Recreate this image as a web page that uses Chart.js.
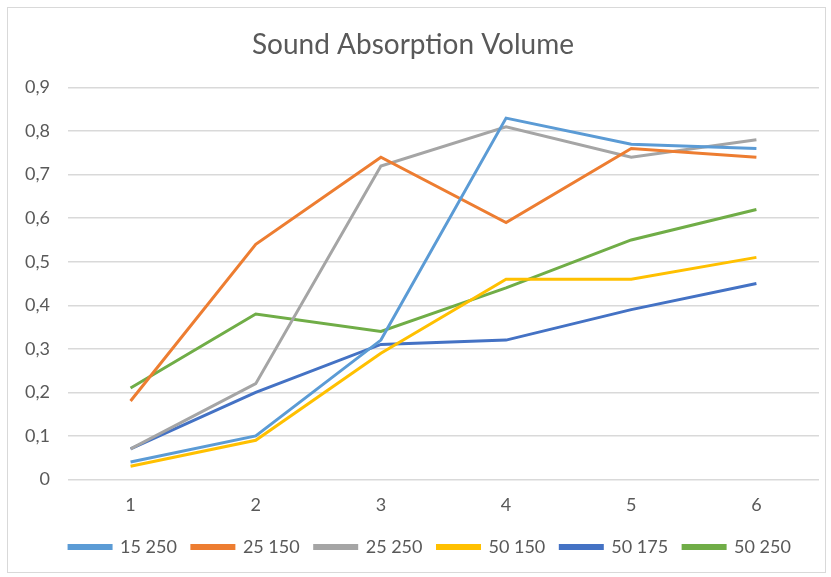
<!DOCTYPE html>
<html>
<head>
<meta charset="utf-8">
<script src="https://cdn.jsdelivr.net/npm/chart.js@4/dist/chart.umd.min.js"></script>
<style>
  html, body { margin: 0; padding: 0; background: #fff; }
  #wrap { position: absolute; left: 0; top: 0; width: 831px; height: 577px; }
  #frame { position: absolute; left: 7px; top: 7px; width: 817px; height: 564px; border: 1px solid #d9d9d9; pointer-events: none; }
  canvas { display: block; }
</style>
</head>
<body>
<div id="wrap"><canvas id="myChart"></canvas></div>
<div id="frame"></div>
<script>
// x categories
var categories = ["1", "2", "3", "4", "5", "6"];

// series
var s15_250 = [0.04, 0.10, 0.32, 0.83, 0.77, 0.76];
var s25_150 = [0.18, 0.54, 0.74, 0.59, 0.76, 0.74];
var s25_250 = [0.07, 0.22, 0.72, 0.81, 0.74, 0.78];
var s50_150 = [0.03, 0.09, 0.29, 0.46, 0.46, 0.51];
var s50_175 = [0.07, 0.20, 0.31, 0.32, 0.39, 0.45];
var s50_250 = [0.21, 0.38, 0.34, 0.44, 0.55, 0.62];

var seriesNames = ["15 250", "25 150", "25 250", "50 150", "50 175", "50 250"];
var seriesData = [s15_250, s25_150, s25_250, s50_150, s50_175, s50_250];
var colors = ["#5B9BD5", "#ED7D31", "#A5A5A5", "#FFC000", "#4472C4", "#70AD47"];

var datasets = [];
for (var i = 0; i < seriesNames.length; i++) {
  datasets.push({
    label: seriesNames[i],
    data: seriesData[i],
    borderColor: colors[i],
    backgroundColor: colors[i],
    borderWidth: 3,
    pointRadius: 0,
    tension: 0,
    fill: false
  });
}

var fontFam = "Lato, 'Open Sans', sans-serif";

// legend in the original sits a bit right of the canvas centre
var legendShift = {
  id: "legendShift",
  afterLayout: function (chart) {
    if (chart.legend) {
      chart.legend.left += 17;
      chart.legend.right += 17;
    }
  }
};

new Chart(document.getElementById("myChart").getContext("2d"), {
  type: "line",
  data: { labels: categories, datasets: datasets },
  plugins: [legendShift],
  options: {
    responsive: true,
    maintainAspectRatio: false,
    animation: false,
    layout: { padding: { top: 23, left: 7, right: 12, bottom: 11 } },
    plugins: {
      tooltip: { enabled: false },
      title: {
        display: true,
        text: "Sound Absorption Volume",
        color: "#595959",
        font: { family: fontFam, size: 28, weight: "normal" },
        padding: { top: 5, bottom: 26 }
      },
      legend: {
        position: "bottom",
        labels: {
          color: "#595959",
          font: { family: fontFam, size: 18 },
          boxWidth: 42,
          boxHeight: 3,
          padding: 15
        }
      }
    },
    scales: {
      x: {
        offset: true,
        grid: { display: false },
        border: { display: false },
        ticks: { color: "#595959", font: { family: fontFam, size: 18 }, padding: 7 }
      },
      y: {
        min: 0,
        max: 0.9,
        grid: { color: "#d9d9d9", lineWidth: 1.5, drawTicks: false },
        border: { display: false },
        ticks: {
          stepSize: 0.1,
          color: "#595959",
          font: { family: fontFam, size: 18 },
          padding: 18,
          callback: function (v) {
            if (Math.abs(v) < 1e-9) return "0";
            return v.toFixed(1).replace(".", ",");
          }
        }
      }
    }
  }
});
</script>
</body>
</html>
